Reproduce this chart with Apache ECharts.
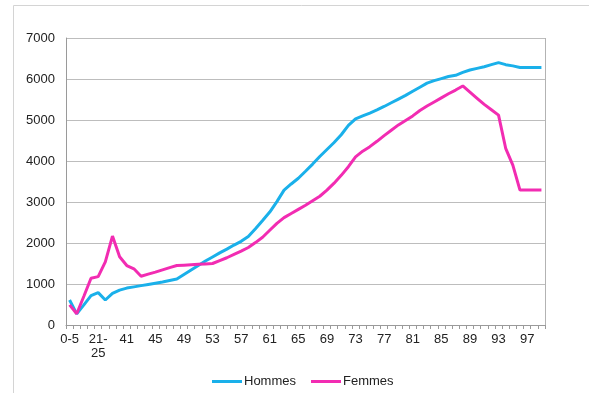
<!DOCTYPE html>
<html>
<head>
<meta charset="utf-8">
<script src="https://cdn.jsdelivr.net/npm/echarts@6/dist/echarts.min.js"></script>
<style>
  html, body { margin: 0; padding: 0; background: #fff; }
  #chart { width: 589px; height: 393px; }
</style>
</head>
<body>
<div id="chart"></div>
<script>
// Age groups: five-year bands up to 40, then single years 41..99
const ageBands = ['0-5', '6-10', '11-15', '16-20', '21-25', '26-30', '31-35', '36-40'];
const singleYears = [];
for (let a = 41; a <= 99; a++) singleYears.push(String(a));
const categories = ageBands.concat(singleYears);

const hommes = [
  610, 270, 490, 715, 790, 610, 770, 850,
  900, 930, 960, 990, 1020, 1050, 1085, 1120, 1230, 1340, 1450, 1560,
  1660, 1760, 1850, 1950, 2040, 2160, 2350, 2550, 2755, 3010,
  3290, 3440, 3580, 3750, 3925, 4110, 4280, 4450, 4640, 4870,
  5030, 5100, 5170, 5245, 5330, 5420, 5510, 5600, 5700, 5800,
  5900, 5960, 6010, 6060, 6090, 6160, 6220, 6260, 6300, 6350,
  6400, 6350, 6320, 6280, 6280, 6280, 6280
];

const femmes = [
  490, 275, 700, 1140, 1180, 1540, 2170, 1665,
  1450, 1370, 1190, 1240, 1290, 1345, 1400, 1450, 1460, 1470, 1480, 1490,
  1500, 1570, 1640, 1720, 1800, 1890, 2010, 2140, 2310, 2480,
  2620, 2720, 2820, 2920, 3030, 3140, 3290, 3460, 3650, 3860,
  4100, 4240, 4350, 4480, 4620, 4750, 4880, 4990, 5100, 5230,
  5340, 5440, 5540, 5640, 5730, 5830, 5680, 5530, 5380, 5250,
  5120, 4310, 3900, 3290, 3290, 3290, 3290
];

const yTicks = { min: 0, max: 7000, interval: 1000 };

const chart = echarts.init(document.getElementById('chart'), null, { renderer: 'canvas' });
const font = '"Liberation Sans", Arial, sans-serif';

chart.setOption({
  animation: false,
  backgroundColor: '#fff',
  graphic: [
    {
      // outer chart frame
      type: 'rect', silent: true, z: -1,
      shape: { x: 13.5, y: 5.5, width: 620, height: 420 },
      style: { fill: 'none', stroke: '#d4d4d4', lineWidth: 1 }
    },
    {
      // right edge of the plot area
      type: 'line', silent: true,
      shape: { x1: 545.5, y1: 38, x2: 545.5, y2: 325 },
      style: { stroke: '#b3b3b3', lineWidth: 1 }
    }
  ],
  grid: { left: 66, right: 44, top: 38, bottom: 68, containLabel: false },
  legend: {
    top: 370,
    left: 207,
    itemWidth: 30,
    itemHeight: 3,
    itemGap: 15,
    icon: 'rect',
    textStyle: { fontFamily: font, fontSize: 13, color: '#222', padding: [0, 0, 0, -3] },
    data: ['Hommes', 'Femmes']
  },
  xAxis: {
    type: 'category',
    data: categories,
    boundaryGap: true,
    axisLine: { lineStyle: { color: '#9a9a9a', width: 1 } },
    axisTick: { show: true, interval: 0, length: 4, lineStyle: { color: '#9a9a9a' } },
    axisLabel: {
      interval: 3,
      margin: 7,
      fontFamily: font,
      fontSize: 13,
      color: '#222',
      lineHeight: 14,
      formatter: function (v) {
        return v.length > 3 ? v.replace('-', '-\n') : v;
      }
    },
    splitLine: { show: false }
  },
  yAxis: {
    type: 'value',
    min: yTicks.min,
    max: yTicks.max,
    interval: yTicks.interval,
    axisLine: { show: true, lineStyle: { color: '#9a9a9a' } },
    axisTick: { show: false },
    axisLabel: {
      fontFamily: font, fontSize: 13, color: '#222', margin: 11,
      formatter: function (v) { return String(v); }
    },
    splitLine: { lineStyle: { color: '#bdbdbd', width: 1 } }
  },
  series: [
    {
      name: 'Hommes',
      type: 'line',
      data: hommes,
      showSymbol: false,
      symbol: 'none',
      lineStyle: { color: '#1ab0ea', width: 3 },
      itemStyle: { color: '#1ab0ea' }
    },
    {
      name: 'Femmes',
      type: 'line',
      data: femmes,
      showSymbol: false,
      symbol: 'none',
      lineStyle: { color: '#f22cb2', width: 3 },
      itemStyle: { color: '#f22cb2' }
    }
  ]
});
</script>
</body>
</html>
